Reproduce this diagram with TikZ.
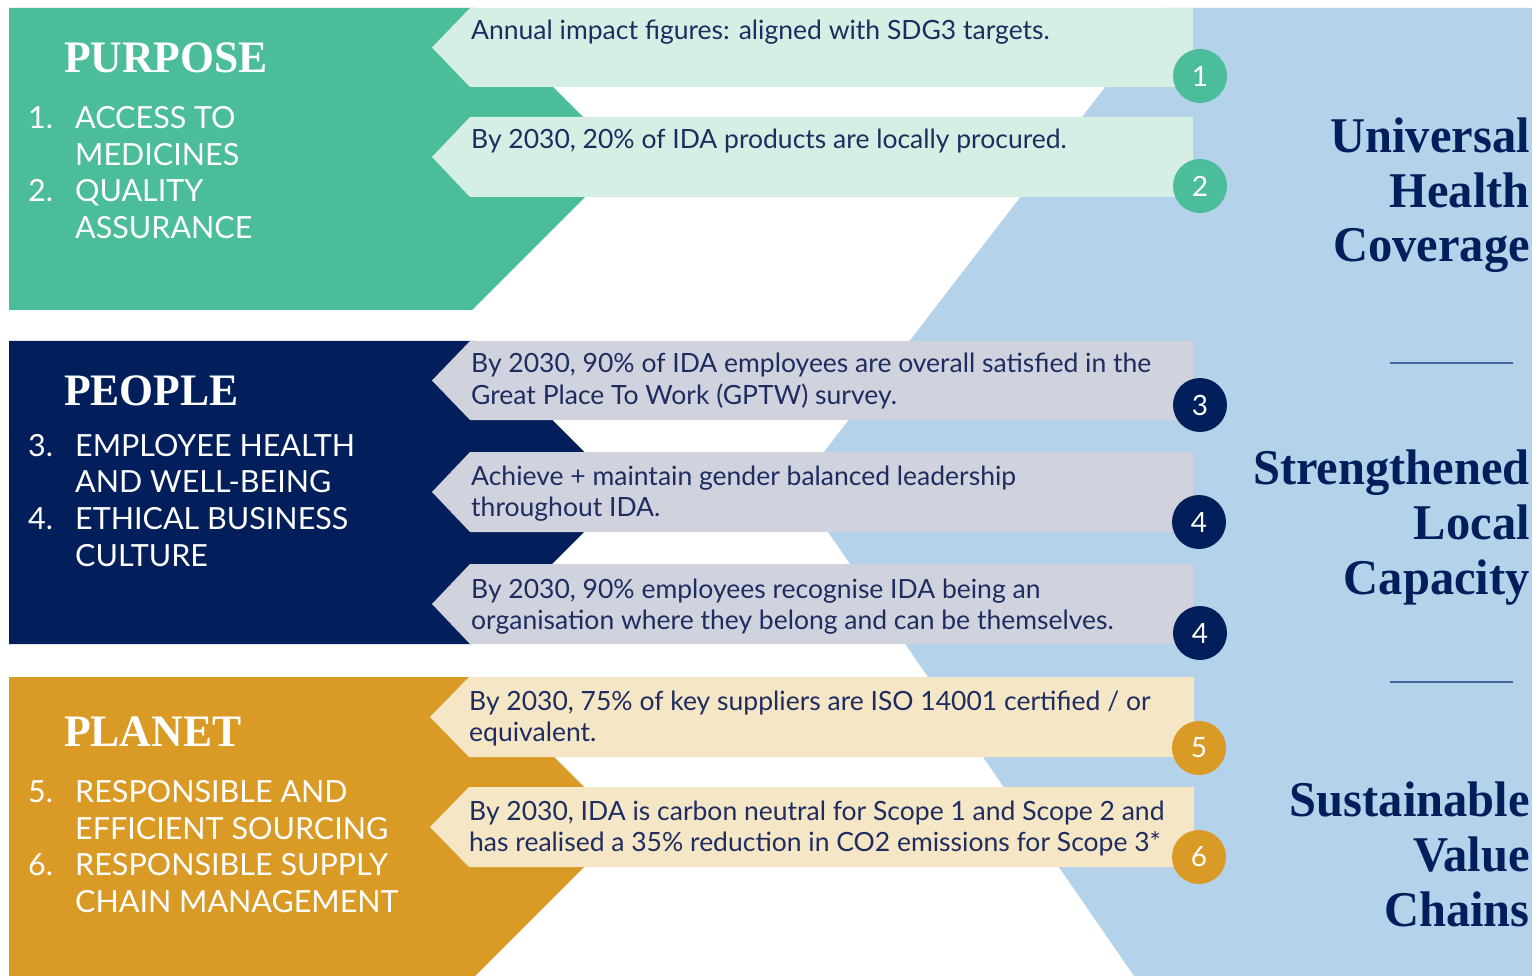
\documentclass[tikz,border=0pt]{standalone}
\usepackage{fontspec}
\setmainfont{Lato}
\newfontfamily\headfont[FakeStretch=0.97]{Liberation Serif}
\definecolor{cPurp}{RGB}{75,189,154}
\definecolor{cPurpL}{RGB}{214,239,228}
\definecolor{cPeop}{RGB}{2,31,91}
\definecolor{cPeopL}{RGB}{208,211,222}
\definecolor{cPlan}{RGB}{218,154,38}
\definecolor{cPlanL}{RGB}{245,230,197}
\definecolor{cBlue}{RGB}{180,210,234}
\definecolor{cText}{RGB}{30,44,96}
\definecolor{cRule}{RGB}{70,100,160}
\begin{document}
\begin{tikzpicture}[x=1pt,y=-1pt,
  boxtxt/.style={anchor=base west, inner sep=0pt, text=cText, font=\fontsize{26.5}{30}\selectfont},
  listtxt/.style={anchor=base west, inner sep=0pt, text=white, font=\fontsize{30.5}{36}\selectfont},
  headtxt/.style={anchor=base west, inner sep=0pt, text=white, font=\headfont\bfseries\fontsize{45}{50}\selectfont},
  pillar/.style={anchor=base east, inner sep=0pt, text=cPeop, font=\headfont\bfseries\fontsize{50}{55}\selectfont},
  num/.style={circle, minimum size=54pt, inner sep=0pt, text=white, font=\fontsize{28}{30}\selectfont},
  rulel/.style={draw=cRule, line width=2pt}]
\useasboundingbox (0,0) rectangle (1532,976);
\fill[white] (0,0) rectangle (1532,976);
% blue background
\fill[cBlue] (1166,8) -- (1532,8) -- (1532,976) -- (1134,976) -- (797,487) -- cycle;
% section shapes
\fill[cPurp] (9,8) -- (474,8) -- (624,158) -- (472,310) -- (9,310) -- cycle;
\fill[cPeop] (9,341) -- (474,341) -- (624,492) -- (472,644) -- (9,644) -- cycle;
\fill[cPlan] (9,677) -- (474,677) -- (624,827) -- (475,976) -- (9,976) -- cycle;
% target boxes
\fill[cPurpL] (470,8) -- (1193,8) -- (1193,87) -- (470,87) -- (432,47.5) -- cycle;
\fill[cPurpL] (470,117) -- (1193,117) -- (1193,197) -- (470,197) -- (432,157) -- cycle;
\fill[cPeopL] (470,341) -- (1193,341) -- (1193,420) -- (470,420) -- (432,380.5) -- cycle;
\fill[cPeopL] (470,452) -- (1193,452) -- (1193,532) -- (470,532) -- (432,492) -- cycle;
\fill[cPeopL] (470,564) -- (1193,564) -- (1193,644) -- (470,644) -- (432,604) -- cycle;
\fill[cPlanL] (469,677) -- (1194,677) -- (1194,757) -- (469,757) -- (430,717) -- cycle;
\fill[cPlanL] (469,787) -- (1194,787) -- (1194,867) -- (469,867) -- (430,827) -- cycle;
% numbers
\node[num, fill=cPurp] (n1) at (1200,76) {1};
\node[num, fill=cPurp] (n2) at (1200,186) {2};
\node[num, fill=cPeop] (n3) at (1200,405) {3};
\node[num, fill=cPeop] (n4a) at (1199,522) {4};
\node[num, fill=cPeop] (n4b) at (1200,633) {4};
\node[num, fill=cPlan] (n5) at (1199,748) {5};
\node[num, fill=cPlan] (n6) at (1199,857) {6};
% box texts
\node[boxtxt] (t1) at (471,40) {Annual impact figures: aligned with SDG3 targets.};
\node[boxtxt] (t2) at (471,149) {By 2030, 20\% of IDA products are locally procured.};
\node[boxtxt] (t3a) at (471,373) {By 2030, 90\% of IDA employees are overall satisfied in the};
\node[boxtxt] (t3b) at (471,404) {Great Place To Work (GPTW) survey.};
\node[boxtxt] (t4a) at (471,485) {Achieve + maintain gender balanced leadership};
\node[boxtxt] (t4b) at (471,516) {throughout IDA.};
\node[boxtxt] (t5a) at (471,598) {By 2030, 90\% employees recognise IDA being an};
\node[boxtxt] (t5b) at (471,629) {organisation where they belong and can be themselves.};
\node[boxtxt] (t6a) at (469,710) {By 2030, 75\% of key suppliers are ISO 14001 certified / or};
\node[boxtxt] (t6b) at (469,741) {equivalent.};
\node[boxtxt] (t7a) at (469,820) {By 2030, IDA is carbon neutral for Scope 1 and Scope 2 and};
\node[boxtxt] (t7b) at (469,851) {has realised a 35\% reduction in CO2 emissions for Scope 3*};
% headings
\node[headtxt] (hpurp) at (64,73) {PURPOSE};
\node[headtxt] (hpeop) at (64,406) {PEOPLE};
\node[headtxt] (hplan) at (64,746) {PLANET};
% list texts
\node[listtxt] (l1n) at (28,129) {1.};
\node[listtxt] (l1a) at (75,129) {ACCESS TO};
\node[listtxt] (l1b) at (75,166) {MEDICINES};
\node[listtxt] (l2n) at (28,202) {2.};
\node[listtxt] (l2a) at (75,202) {QUALITY};
\node[listtxt] (l2b) at (75,239) {ASSURANCE};
\node[listtxt] (l3n) at (28,456) {3.};
\node[listtxt] (l3a) at (75,456) {EMPLOYEE HEALTH};
\node[listtxt] (l3b) at (75,492) {AND WELL-BEING};
\node[listtxt] (l4n) at (28,529) {4.};
\node[listtxt] (l4a) at (75,529) {ETHICAL BUSINESS};
\node[listtxt] (l4b) at (75,566) {CULTURE};
\node[listtxt] (l5n) at (28,802) {5.};
\node[listtxt] (l5a) at (75,802) {RESPONSIBLE AND};
\node[listtxt] (l5b) at (75,839) {EFFICIENT SOURCING};
\node[listtxt] (l6n) at (28,875) {6.};
\node[listtxt] (l6a) at (75,875) {RESPONSIBLE SUPPLY};
\node[listtxt] (l6b) at (75,912) {CHAIN MANAGEMENT};
% pillars
\node[pillar] (p1a) at (1530,153) {Universal};
\node[pillar] (p1b) at (1530,208) {Health};
\node[pillar] (p1c) at (1530,262) {Coverage};
\node[pillar] (p2a) at (1530,484) {Strengthened};
\node[pillar] (p2b) at (1530,539) {Local};
\node[pillar] (p2c) at (1530,594) {Capacity};
\node[pillar] (p3a) at (1530,816) {Sustainable};
\node[pillar] (p3b) at (1530,871) {Value};
\node[pillar] (p3c) at (1530,926) {Chains};
% separators
\coordinate (r1a) at (1390,363);
\coordinate (r1b) at (1513,363);
\coordinate (r2a) at (1390,682);
\coordinate (r2b) at (1513,682);
\draw[rulel] (r1a) -- (r1b);
\draw[rulel] (r2a) -- (r2b);
\end{tikzpicture}
\end{document}
